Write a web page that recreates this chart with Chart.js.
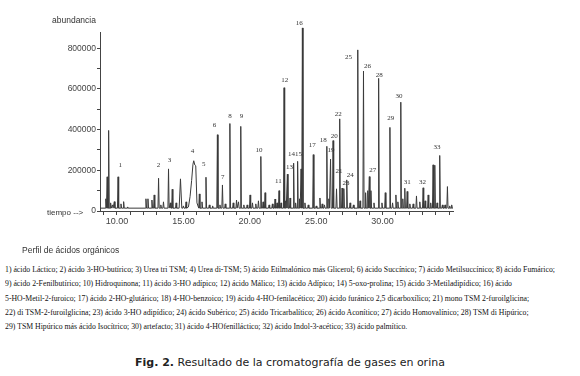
<!DOCTYPE html>
<html>
<head>
<meta charset="utf-8">
<script src="https://cdn.jsdelivr.net/npm/chart.js@4.4.1/dist/chart.umd.min.js"></script>
<style>
  html, body { margin: 0; padding: 0; background: #fff; }
  #wrap { position: relative; width: 580px; height: 376px; overflow: hidden; background: #fff; }
  #grafica { position: absolute; left: 0; top: 0; }
  .t { position: absolute; white-space: nowrap; color: #333; }
  #abund, #tiempo, #perfil { font: 8.5px "Liberation Sans", Arial, sans-serif; }
  #abund { left: 52px; top: 15px; }
  #tiempo { left: 47px; top: 208px; font-size: 8px; }
  #perfil { left: 22px; top: 245px; }
  #lista { position: absolute; left: 5px; top: 262px; transform-origin: 0 0;
           font: 9px "Liberation Serif", "Times New Roman", serif; color: #111; line-height: 14.3px; }
  #lista div { white-space: nowrap; }
  #fig { left: 135px; top: 356px; font: 11px "DejaVu Sans", Verdana, sans-serif; color: #222; }
</style>
</head>
<body>
<div id="wrap">
  <canvas id="grafica" width="580" height="240" style="width:580px;height:240px"></canvas>
  <div class="t" id="abund">abundancia</div>
  <div class="t" id="tiempo">tiempo --&gt;</div>
  <div class="t" id="perfil">Perfil de ácidos orgánicos</div>
  <div id="lista"></div>
  <div class="t" id="fig"><b>Fig. 2.</b> Resultado de la cromatografía de gases en orina</div>
</div>
<script>
// picos del cromatograma (tiempo en min, abundancia)
const peakTime = [9.16, 9.26, 9.37, 9.52, 9.66, 9.80, 10.08, 10.30, 10.50, 10.80,
  12.18, 12.33, 12.63, 12.80, 13.13, 13.30, 13.50, 13.88, 14.02, 14.16, 14.45, 14.78, 15.00, 15.20,
  16.20, 16.40, 16.70, 16.95, 17.20, 17.56, 17.75, 17.94, 18.15, 18.50, 18.75, 19.00, 19.15, 19.32,
  19.55, 19.80, 20.02, 20.20, 20.45, 20.65, 20.83, 21.00, 21.15, 21.45, 21.70, 21.90, 22.05, 22.20,
  22.35, 22.58, 22.70, 22.83, 23.03, 23.30, 23.45, 23.60, 23.75, 23.86, 23.96, 24.15, 24.40, 24.78,
  25.00, 25.28, 25.45, 25.62, 25.80, 25.95, 26.08, 26.27, 26.53, 26.77, 26.95, 27.08, 27.30, 27.55,
  27.80, 28.13, 28.30, 28.56, 28.72, 28.88, 29.00, 29.12, 29.35, 29.70, 29.95, 30.20, 30.55, 30.75,
  31.00, 31.15, 31.37, 31.52, 31.67, 31.85, 32.05, 32.30, 32.55, 32.80, 33.05, 33.20, 33.43, 33.62,
  33.80, 33.93, 34.10, 34.30, 34.50, 34.70, 34.88, 35.05, 35.20];
const peakHeight = [60000, 168000, 396000, 40000, 30000, 46000, 168000, 35000, 46000, 20000,
  60000, 60000, 54000, 79000, 161000, 30000, 45000, 207000, 40000, 107000, 40000, 158000, 25000, 45000,
  84000, 45000, 166000, 30000, 25000, 375000, 30000, 128000, 35000, 430000, 40000, 54000, 45000, 416000,
  30000, 30000, 79000, 40000, 35000, 50000, 268000, 45000, 90000, 30000, 35000, 59000, 40000, 100000,
  40000, 606000, 50000, 181000, 64000, 235000, 40000, 244000, 60000, 207000, 900000, 40000, 30000, 277000,
  25000, 64000, 35000, 30000, 318000, 60000, 255000, 346000, 109000, 453000, 113000, 110000, 153000, 40000,
  30000, 792000, 50000, 688000, 90000, 100000, 169000, 100000, 40000, 652000, 40000, 90000, 411000, 40000,
  79000, 45000, 535000, 60000, 112000, 96000, 35000, 35000, 74000, 45000, 114000, 50000, 79000, 40000,
  227000, 225000, 40000, 273000, 30000, 30000, 120000, 25000, 30000];
// pico ancho 4 (Urea di-TSM)
const humpTime = [15.38, 15.50, 15.62, 15.72, 15.78, 15.86, 15.93, 16.02];
const humpValue = [20000, 70000, 150000, 230000, 247000, 226000, 222000, 40000];

// números de los picos
const labelText = ['1', '2', '3', '4', '5', '6', '7', '8', '9', '10', '11', '12', '13', '1415', '16', '17',
  '18', '19', '20', '21', '22', '23', '24', '25', '26', '27', '28', '29', '30', '31', '32', '33'];
const labelTime = [10.25, 13.13, 13.95, 15.68, 16.54, 17.34, 17.97, 18.50, 19.37, 20.70, 22.15, 22.63, 22.98,
  23.41, 23.73, 24.71, 25.53, 26.11, 26.36, 26.71, 26.66, 27.24, 27.56, 27.44, 28.87, 29.25, 29.74, 30.62,
  31.23, 31.85, 33.00, 34.10];
const labelValue = [227000, 227000, 248000, 293000, 231000, 421000, 168000, 466000, 466000, 298000, 148000,
  642000, 216000, 280000, 923000, 326000, 346000, 301000, 367000, 198000, 476000, 137000, 178000, 754000,
  711000, 199000, 668000, 458000, 564000, 140000, 140000, 313000];

const xTicks = [9, 10, 11, 12, 13, 14, 15, 16, 17, 18, 19, 20, 21, 22, 23, 24, 25, 26, 27, 28, 29, 30,
  31, 32, 33, 34, 35];
const xTickLabels = [10, 15, 20, 25, 30];
const yTickLabels = [0, 200000, 400000, 600000, 800000];

const leyenda = [
  '1) ácido Láctico; 2) ácido 3-HO-butírico; 3) Urea tri TSM; 4) Urea di-TSM; 5) ácido Etilmalónico más Glicerol; 6) ácido Succínico; 7) ácido Metilsuccínico; 8) ácido Fumárico;',
  '9) ácido 2-Fenilbutírico; 10) Hidroquinona; 11) ácido 3-HO adípico;  12) ácido Málico; 13) ácido Adípico; 14) 5-oxo-prolina; 15) ácido 3-Metiladipídico; 16) ácido',
  '5-HO-Metil-2-furoico; 17) ácido 2-HO-glutárico; 18) 4-HO-benzoico; 19) ácido 4-HO-fenilacético; 20) ácido furánico 2,5 dicarboxílico; 21) mono TSM 2-furoilglicina;',
  '22) di TSM-2-furoilglicina; 23) ácido 3-HO adipídico; 24) ácido Subérico; 25) ácido Tricarbalítico; 26) ácido Aconítico; 27) ácido Homovalínico; 28) TSM di Hipúrico;',
  '29) TSM Hipúrico más ácido Isocítrico; 30) artefacto; 31) ácido 4-HOfenilláctico; 32) ácido Indol-3-acético; 33) ácido palmítico.'
];

const lista = document.getElementById('lista');
leyenda.forEach(s => {
  const d = document.createElement('div');
  d.textContent = s;
  lista.appendChild(d);
});
const w1 = lista.firstChild.getBoundingClientRect().width;
lista.style.transform = 'scaleX(' + (550 / w1) + ')';

// traza: cada pico como una aguja sobre la línea base
const base = 14000;
const trace = [{x: 8.75, y: base}];
peakTime.forEach((t, i) => {
  const w = t === 14.78 ? 0.1 : 0.045;
  trace.push({x: t - w, y: base}, {x: t, y: peakHeight[i]}, {x: t + w, y: base});
});
humpTime.forEach((t, i) => trace.push({x: t, y: humpValue[i]}));
trace.push({x: 35.3, y: base});
trace.sort((a, b) => a.x - b.x);

const numeros = {
  id: 'numeros',
  afterDatasetsDraw(chart) {
    const {ctx, scales: {x, y}} = chart;
    ctx.save();
    ctx.font = '7px "Liberation Serif", serif';
    ctx.fillStyle = '#333';
    ctx.textAlign = 'center';
    ctx.textBaseline = 'middle';
    labelText.forEach((s, i) => {
      ctx.fillText(s, x.getPixelForValue(labelTime[i]), y.getPixelForValue(labelValue[i]));
    });
    ctx.restore();
  }
};

const graph = document.querySelector('#grafica');
new Chart(graph, {
  type: 'line',
  data: {
    datasets: [{
      data: trace,
      borderColor: '#3a3a3a',
      borderWidth: 1,
      pointRadius: 0,
      tension: 0,
      clip: false
    }]
  },
  options: {
    responsive: false,
    animation: false,
    layout: {padding: {top: 32, right: 127, left: 0, bottom: 0}},
    plugins: {legend: {display: false}, tooltip: {enabled: false}},
    scales: {
      x: {
        type: 'linear',
        min: 8.72,
        max: 35.3,
        afterBuildTicks: s => { s.ticks = xTicks.map(v => ({value: v})); },
        afterFit: s => { s.height = 29; },
        ticks: {
          autoSkip: false,
          maxRotation: 0,
          padding: 1,
          color: '#444',
          font: {family: '"Liberation Sans", Arial, sans-serif', size: 9},
          callback: v => xTickLabels.includes(v) ? v.toFixed(2) : ''
        },
        grid: {drawOnChartArea: false, drawTicks: true, tickLength: 4, color: '#444'},
        border: {color: '#444'}
      },
      y: {
        min: 0,
        max: 880000,
        afterBuildTicks: s => {
          const t = [];
          for (let v = 0; v <= 850000; v += 50000) t.push({value: v});
          s.ticks = t;
        },
        afterFit: s => { s.width = 100; },
        ticks: {
          padding: 1,
          color: '#444',
          font: {family: '"Liberation Sans", Arial, sans-serif', size: 8.5},
          callback: v => yTickLabels.includes(v) ? String(v) : ''
        },
        grid: {drawOnChartArea: false, drawTicks: true, tickLength: 3, color: '#444'},
        border: {color: '#444'}
      }
    }
  },
  plugins: [numeros]
});
</script>
</body>
</html>
